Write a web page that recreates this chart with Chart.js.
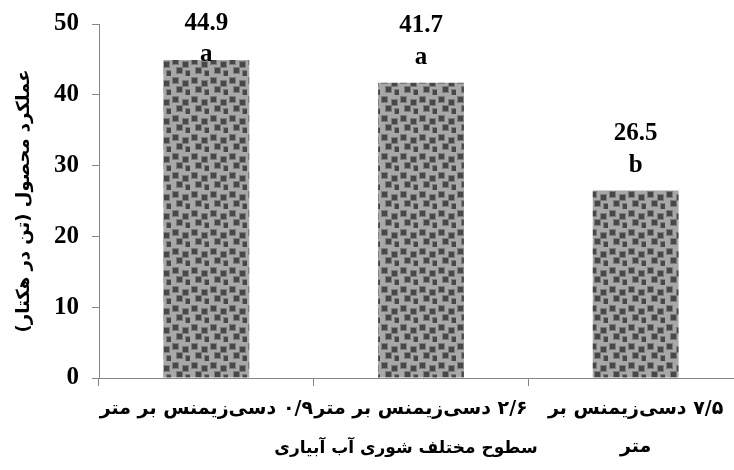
<!DOCTYPE html>
<html>
<head>
<meta charset="utf-8">
<script src="https://cdn.jsdelivr.net/npm/chart.js@4"></script>
<style>
    html, body { margin: 0; padding: 0; background: #fff; overflow: hidden; }
    #wrap { width: 746px; height: 470px; position: relative; }
</style>
</head>
<body>
<div id="wrap"><canvas id="yieldChart" dir="rtl"></canvas></div>
<script>
// chart data
const categories = [
    '۰/۹ دسی‌زیمنس بر متر',
    '۲/۶ دسی‌زیمنس بر متر',
    ['۷/۵ دسی‌زیمنس بر', 'متر']
];
const yieldValues = [44.9, 41.7, 26.5];
const groupLetters = ['a', 'a', 'b'];
const yTicks = [0, 10, 20, 30, 40, 50];
const xTitle = 'سطوح مختلف شوری آب آبیاری';
const yTitle = 'عملکرد محصول (تن در هکتار)';

const axisGray = '#868686';
const faFont = "'DejaVu Sans', sans-serif";
const numFont = "'Liberation Serif', 'Times New Roman', serif";

// confetti-like fill for the bars
function makePattern() {
    const tile = document.createElement('canvas');
    tile.width = 19;
    tile.height = 19;
    const c = tile.getContext('2d');
    c.fillStyle = '#a8a8a8';
    c.fillRect(0, 0, 19, 19);
    const spots = [[2, 2], [12, 5], [6, 11], [15, 14]];
    spots.forEach(([x, y]) => {
        c.fillStyle = '#7c7c7c';
        c.fillRect(x - 1, y - 1, 7, 7);
        c.fillStyle = '#484848';
        c.fillRect(x, y, 5, 5);
    });
    return c.createPattern(tile, 'repeat');
}

const labelPlugin = {
    id: 'barLabels',
    afterDatasetsDraw(chart) {
        const ctx = chart.ctx;
        const meta = chart.getDatasetMeta(0);
        ctx.save();
        ctx.fillStyle = '#000';
        ctx.textAlign = 'center';
        ctx.textBaseline = 'middle';
        ctx.direction = 'ltr';
        ctx.font = 'bold 25px ' + numFont;
        meta.data.forEach((bar, i) => {
            let letterY = bar.y - 25;
            let valueY = letterY - 32;
            if (valueY < 24) {
                valueY = 24;
                letterY = valueY + 31;
            }
            ctx.fillText(yieldValues[i].toFixed(1), bar.x, valueY);
            ctx.fillText(groupLetters[i], bar.x, letterY);
        });

        // x axis title sits on the second label line
        const xs = chart.scales.x;
        ctx.font = 'bold 17px ' + faFont;
        ctx.direction = 'rtl';
        ctx.fillText(xTitle, xs.getPixelForValue(0.93), 449);
        ctx.restore();
    }
};

const ctx = document.getElementById('yieldChart').getContext('2d');

new Chart(ctx, {
    type: 'bar',
    data: {
        labels: categories,
        datasets: [{
            data: yieldValues,
            backgroundColor: makePattern(),
            borderWidth: 0,
            barPercentage: 0.4,
            categoryPercentage: 1
        }]
    },
    options: {
        responsive: true,
        maintainAspectRatio: false,
        animation: false,
        layout: { padding: { top: 24, right: 3, left: 0, bottom: 0 } },
        plugins: {
            legend: { display: false },
            tooltip: { enabled: false }
        },
        scales: {
            x: {
                border: { color: axisGray, width: 1 },
                grid: { drawOnChartArea: false, color: axisGray, tickLength: 8 },
                ticks: {
                    color: '#000',
                    maxRotation: 0,
                    autoSkip: false,
                    padding: 4,
                    font: { family: faFont, size: 19, weight: 'bold', lineHeight: 2 }
                },
                afterFit(scale) { scale.height = 92; }
            },
            y: {
                min: 0,
                max: 50,
                border: { color: axisGray, width: 1 },
                grid: { drawOnChartArea: false, color: axisGray, tickLength: 7 },
                afterBuildTicks(scale) {
                    scale.ticks = yTicks.map(v => ({ value: v }));
                },
                ticks: {
                    color: '#000',
                    padding: 13,
                    font: { family: numFont, size: 25, weight: 'bold' }
                },
                title: {
                    display: true,
                    text: yTitle,
                    color: '#000',
                    padding: { top: 14, bottom: 0 },
                    font: { family: faFont, size: 18, weight: 'bold' }
                },
                afterFit(scale) {
                    scale.width = 99;
                    scale.paddingTop = 0;
                    scale.paddingBottom = 0;
                }
            }
        }
    },
    plugins: [labelPlugin]
});
</script>
</body>
</html>
